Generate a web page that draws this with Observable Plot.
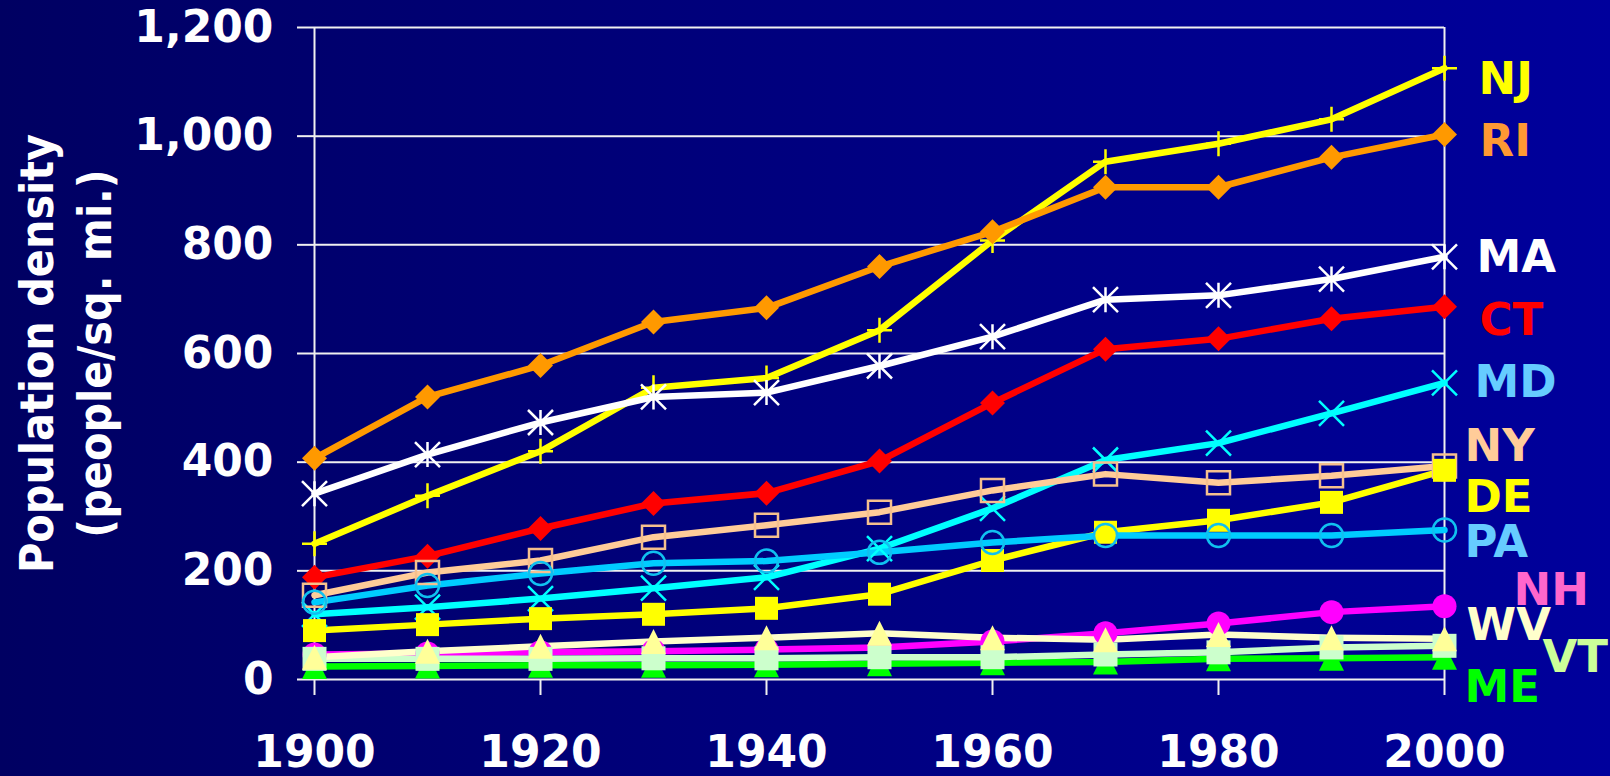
<!DOCTYPE html>
<html><head><meta charset="utf-8">
<script src="https://cdn.jsdelivr.net/npm/d3@7"></script>
<script src="https://cdn.jsdelivr.net/npm/@observablehq/plot@0.6"></script>
<style>
html,body{margin:0;padding:0;}
body{width:1610px;height:776px;overflow:hidden;background:linear-gradient(to right,#000062,#00009c);}
#chart svg{display:block;}
</style></head><body><div id="chart"></div>
<script>
// ---- data ----
const years = [1900, 1910, 1920, 1930, 1940, 1950, 1960, 1970, 1980, 1990, 2000];
const xTicks = [1900, 1920, 1940, 1960, 1980, 2000];
const yTicks = [0, 200, 400, 600, 800, 1000, 1200];

const NJ = [250, 338, 420, 537, 555, 643, 808, 953, 986, 1031, 1125];
const RI = [407, 520, 578, 658, 684, 760, 824, 906, 906, 961, 1003];
const MA = [342, 414, 473, 520, 528, 577, 631, 699, 707, 737, 778];
const CT = [188, 227, 278, 324, 343, 402, 509, 608, 627, 664, 686];
const MD = [120, 133, 149, 168, 188, 241, 315, 404, 435, 490, 546];
const NY = [155, 197, 219, 262, 284, 308, 348, 378, 362, 375, 393];
const DE = [90, 101, 112, 120, 131, 157, 219, 271, 293, 326, 385];
const PA = [142, 173, 195, 214, 218, 234, 252, 265, 265, 265, 275];
const ME = [24, 25, 26, 26, 27, 29, 31, 32, 38, 39, 41];
const NH = [46, 48, 50, 52, 55, 59, 70, 85, 103, 124, 135];
const VT = [38, 38, 38, 39, 39, 41, 41, 46, 50, 59, 62];
const WV = [41, 52, 61, 70, 77, 85, 77, 73, 83, 77, 75];

// drawing order
const states = ["NJ", "RI", "MA", "CT", "MD", "NY", "DE", "PA", "ME", "NH", "VT", "WV"];
const seriesValues = [NJ, RI, MA, CT, MD, NY, DE, PA, ME, NH, VT, WV];

// ---- styles ----
const lineColors   = ["#ffff00", "#ff9900", "#ffffff", "#ff0000", "#00ffff", "#ffcc99", "#ffff00", "#00ccff", "#00ff00", "#ff00ff", "#ccffcc", "#ffffcc"];
const markerFill   = ["none", "#ff9900", "none", "#ff0000", "none", "none", "#ffff00", "none", "#00ff00", "#ff00ff", "#ccffcc", "#ffff99"];
const markerStroke = ["#ffff00", "none", "#ffffff", "none", "#00ffff", "#f5c08e", "none", "#10c0f0", "none", "none", "none", "none"];
const markerShape  = ["plus", "diamond", "asterisk", "diamond", "times", "square", "square", "circle", "triangle", "circle", "square", "triangle"];
const markerHalf   = [12.5, 12.5, 12.5, 12.5, 12.5, 11.5, 11.5, 11.5, 12.5, 12, 12, 12.5];
const labelColors  = ["#ffff00", "#ff9933", "#ffffff", "#ff0000", "#66ccff", "#ffcc99", "#ffff00", "#66ccff", "#00ff00", "#ff66cc", "#ccff99", "#ffffcc"];
// label layout (y in data units, dx in px from the 2000 line)
const labelY  = [1105, 990, 777, 660, 547, 429, 335, 252, -14, 164, 41, 99];
const labelDx = [34, 35, 32, 35, 30, 20, 20, 20, 20, 69, 98, 22];

const shapes = {
  diamond(c, h) { c.moveTo(0, -h); c.lineTo(h, 0); c.lineTo(0, h); c.lineTo(-h, 0); c.closePath(); },
  square(c, h) { c.rect(-h, -h, 2 * h, 2 * h); },
  circle(c, h) { c.moveTo(h, 0); c.arc(0, 0, h, 0, 2 * Math.PI); },
  triangle(c, h) { c.moveTo(0, -h); c.lineTo(h, h); c.lineTo(-h, h); c.closePath(); },
  plus(c, h) { c.moveTo(-h, 0); c.lineTo(h, 0); c.moveTo(0, -h); c.lineTo(0, h); },
  times(c, h) { c.moveTo(-h, -h); c.lineTo(h, h); c.moveTo(-h, h); c.lineTo(h, -h); },
  asterisk(c, h) { c.moveTo(-h, -h); c.lineTo(h, h); c.moveTo(-h, h); c.lineTo(h, -h); c.moveTo(0, -h); c.lineTo(0, h); }
};
const symbolOf = name => ({ draw(ctx, size) { shapes[name](ctx, Math.sqrt(size / Math.PI)); } });

const rows = states.flatMap((s, i) => seriesValues[i].map((v, j) => ({ state: s, year: years[j], value: v })));
const bySeries = states.map(s => rows.filter(d => d.state === s));

const font = "DejaVu Sans, Verdana, sans-serif";

const chart = Plot.plot({
  width: 1610,
  height: 776,
  marginLeft: 314,
  marginRight: 166,
  marginTop: 27,
  marginBottom: 97,
  style: { background: "transparent", color: "white", fontFamily: font, fontWeight: "bold", fontSize: "44px", overflow: "visible" },
  x: { domain: [1900, 2000] },
  y: { domain: [0, 1200] },
  marks: [
    Plot.gridY(yTicks, { stroke: "#f0f0f0", strokeOpacity: 1, strokeWidth: 2 }),
    Plot.ruleX([1900, 2000], { stroke: "#f0f0f0", strokeWidth: 2 }),
    Plot.axisX({ ticks: xTicks, tickFormat: d => String(d), tickSize: 16, tickPadding: 40, strokeWidth: 2, stroke: "#f0f0f0", fontSize: 44, fontWeight: "bold", fontFamily: font, label: null }),
    Plot.axisY({ ticks: yTicks, tickFormat: d3.format(","), tickSize: 17, tickPadding: 24, strokeWidth: 2, stroke: "#f0f0f0", fontSize: 44, fontWeight: "bold", fontFamily: font, label: null }),
    Plot.text(["Population density\n(people/sq. mi.)"], {
      text: d => d, frameAnchor: "left", dx: -251, rotate: -90, textAnchor: "middle", lineAnchor: "middle", lineHeight: 1.26,
      fontSize: 46, fontWeight: "bold", fontFamily: "DejaVu Sans Condensed, DejaVu Sans, sans-serif", fill: "white"
    }),
    ...bySeries.map((data, i) => Plot.line(data, { x: "year", y: "value", stroke: lineColors[i], strokeWidth: 6.5, strokeLinejoin: "round" })),
    ...bySeries.map((data, i) => Plot.dot(data, {
      x: "year", y: "value", symbol: symbolOf(markerShape[i]), r: markerHalf[i],
      fill: markerFill[i], stroke: markerStroke[i], strokeWidth: 2.5
    })),
    ...states.map((s, i) => Plot.text([s], {
      text: d => d, x: () => 2000, y: () => labelY[i], dx: labelDx[i], textAnchor: "start", lineAnchor: "middle",
      fill: labelColors[i], fontSize: 45, fontWeight: "bold", fontFamily: font
    }))
  ]
});
document.getElementById("chart").appendChild(chart);
</script>
</body></html>
